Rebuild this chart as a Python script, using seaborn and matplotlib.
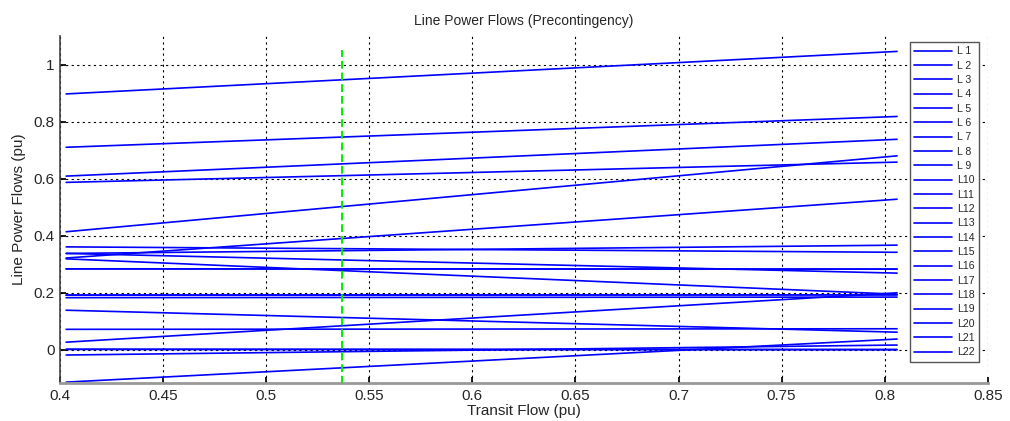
import matplotlib
matplotlib.use("Agg")
import matplotlib.pyplot as plt
import seaborn as sns
import pandas as pd

# ---- data ----
transit = [0.403, 0.806]          # transit flow at start / end of the sweep (pu)
labels = ["L 1", "L 2", "L 3", "L 4", "L 5", "L 6", "L 7", "L 8", "L 9", "L10", "L11",
          "L12", "L13", "L14", "L15", "L16", "L17", "L18", "L19", "L20", "L21", "L22"]
flow_start = [0.897, 0.710, 0.609, 0.587, 0.414, 0.322, 0.361, 0.338, 0.338, 0.319, 0.284,
              0.192, 0.183, 0.027, 0.139, 0.072, -0.113, 0.002, -0.018, 0.192, 0.002, 0.284]
flow_end = [1.046, 0.818, 0.738, 0.658, 0.680, 0.528, 0.342, 0.367, 0.269, 0.195, 0.283,
            0.193, 0.185, 0.200, 0.062, 0.074, 0.038, 0.001, 0.017, 0.193, 0.001, 0.283]
operating_point = 0.537           # green dashed marker (pu)
marker_top = 1.05

xticks = [0.4, 0.45, 0.5, 0.55, 0.6, 0.65, 0.7, 0.75, 0.8, 0.85]
xticklabels = ["0.4", "0.45", "0.5", "0.55", "0.6", "0.65", "0.7", "0.75", "0.8", "0.85"]
yticks = [0, 0.2, 0.4, 0.6, 0.8, 1.0]
yticklabels = ["0", "0.2", "0.4", "0.6", "0.8", "1"]

rows = []
for lab, a, b in zip(labels, flow_start, flow_end):
    rows.append({"Transit": transit[0], "Flow": a, "Line": lab})
    rows.append({"Transit": transit[1], "Flow": b, "Line": lab})
df = pd.DataFrame(rows)

sns.set_theme(style="white")
plt.rcParams["font.family"] = ["Liberation Sans", "DejaVu Sans"]

fig = plt.figure(figsize=(10.10, 4.21), dpi=100)
ax = fig.add_axes([0.0594, 0.0903, 0.9186, 0.8242])

sns.lineplot(data=df, x="Transit", y="Flow", hue="Line", hue_order=labels,
             palette=["#0000ff"] * len(labels), linewidth=1.2, ax=ax, legend=True)

ax.plot([operating_point, operating_point], [-0.2, marker_top], color="#00ee00",
        linestyle=(0, (4, 2)), linewidth=1.4, zorder=5)

ax.set_xlim(0.4, 0.85)
ax.set_ylim(-0.116, 1.1)
ax.set_xticks(xticks)
ax.set_xticklabels(xticklabels, fontsize=11)
ax.set_yticks(yticks)
ax.set_yticklabels(yticklabels, fontsize=11)
ax.grid(True, color="black", linestyle=(0, (2, 3)), linewidth=0.8)
ax.tick_params(axis="both", direction="in", length=4, color="black", pad=4)
ax.tick_params(axis="both", which="both", left=True, bottom=True)

for s in ["top", "right"]:
    ax.spines[s].set_visible(False)
ax.spines["left"].set_color("#444444")
ax.spines["left"].set_linewidth(1.2)
ax.spines["bottom"].set_color("#999999")
ax.spines["bottom"].set_linewidth(2.0)

ax.set_title("Line Power Flows (Precontingency)", fontsize=10, pad=8)
ax.set_xlabel("Transit Flow (pu)", fontsize=11, labelpad=1)
ax.set_ylabel("Line Power Flows (pu)", fontsize=11, labelpad=5)

handles, labs = ax.get_legend_handles_labels()
leg = ax.legend(handles[:len(labels)], labs[:len(labels)], loc="upper left",
                bbox_to_anchor=(0.916, 0.982), fontsize=7.6, frameon=True,
                fancybox=False, edgecolor="#555555", framealpha=1,
                handlelength=3.6, handletextpad=0.5, labelspacing=0.41,
                borderpad=0.4, borderaxespad=0)
leg.get_frame().set_linewidth(1.0)

fig.savefig("out.png", dpi=100, facecolor="white")
